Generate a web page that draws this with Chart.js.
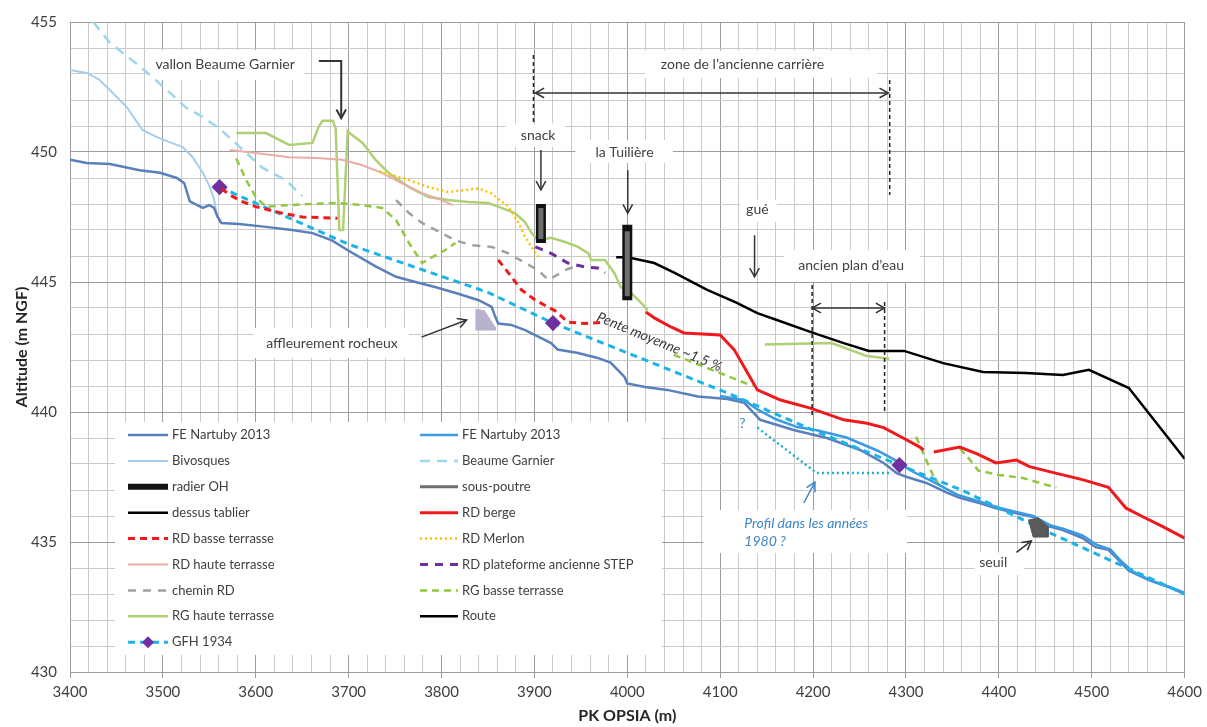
<!DOCTYPE html>
<html><head><meta charset="utf-8">
<script src="https://cdn.jsdelivr.net/npm/chart.js@4.4.1/dist/chart.umd.min.js"></script>
<style>html,body{margin:0;padding:0;background:#fff}#wrap{width:1207px;height:727px}</style>
</head><body><div id="wrap"><canvas id="c" width="1207" height="727"></canvas></div>
<script>
// ---------- axes ----------
const xTickLabels = [3400,3500,3600,3700,3800,3900,4000,4100,4200,4300,4400,4500,4600];
const yTickLabels = [430,435,440,445,450,455];
const xMinorStep = 20;
const yMinorStep = 1;

// ---------- series ([PK, altitude]; null = gap) ----------
const feNartuby2013A = [[3400,449.7],[3418,449.58],[3443,449.54],[3475,449.3],[3497,449.2],[3515,449.0],[3523,448.8],[3529,448.1],[3543,447.85],[3550,447.96],[3555,447.85],[3559,447.5],[3563,447.27],[3582,447.23],[3611,447.12],[3639,447.0],[3661,446.88],[3682,446.6],[3700,446.2],[3729,445.6],[3751,445.2],[3772,445.0],[3794,444.8],[3818,444.55],[3840,444.3],[3854,444.04],[3858,443.65],[3861,443.4],[3875,443.35],[3890,443.15],[3904,442.9],[3918,442.65],[3925,442.4],[3947,442.27],[3968,442.08],[3982,441.9],[3997,441.35],[4000,441.1],[4019,440.96],[4043,440.85],[4076,440.6],[4108,440.5],[4126,440.35],[4143,439.7],[4180,439.3],[4215,439.0],[4250,438.55],[4276,438.04],[4290,437.65],[4301,437.5],[4322,437.27],[4344,436.9],[4358,436.7],[4379,436.5],[4397,436.3],[4419,436.1],[4437,435.96],[4454,435.6],[4469,435.46],[4490,435.15],[4504,434.8],[4518,434.7],[4529,434.3],[4540,433.9],[4561,433.54],[4583,433.27],[4600,433.0]];
const feNartuby2013B = [[4100,440.62],[4126,440.45],[4140,440.1],[4160,439.72],[4183,439.42],[4204,439.3],[4236,439.02],[4269,438.52],[4290,438.12],[4305,437.75],[4330,437.3],[4355,436.82],[4380,436.55],[4400,436.32],[4420,436.15],[4437,436.0],[4455,435.65],[4470,435.5],[4490,435.25],[4505,434.9],[4520,434.72],[4532,434.25],[4545,433.85],[4565,433.5],[4585,433.25],[4600,433.05]];
const bivosques = [[3400,453.15],[3418,453.04],[3432,452.77],[3446,452.27],[3461,451.73],[3478,450.85],[3493,450.58],[3507,450.38],[3521,450.2],[3532,449.8],[3543,449.2],[3550,448.7],[3555,448.2],[3558,447.6],[3562,447.3]];
const beaumeGarnier = [[3425,455.0],[3443,454.2],[3475,453.3],[3504,452.4],[3525,451.7],[3543,451.35],[3561,450.9],[3607,449.4],[3633,448.9],[3650,448.3]];
const radierOH = [[3907,448.0],[3907,446.5],null,[4000,447.2],[4000,444.3]];
const sousPoutre = [[3907,447.85],[3907,446.65],null,[4000,446.95],[4000,444.45]];
const dessusTablier = [[3988,445.95],[4004,445.95]];
const rdBerge = [[4020,443.85],[4030,443.6],[4047,443.27],[4061,443.04],[4100,442.96],[4115,442.4],[4132,441.35],[4140,440.85],[4165,440.46],[4197,440.15],[4233,439.7],[4258,439.57],[4276,439.4],[4297,439.0],[4315,438.65],[4319,438.54],null,[4330,438.46],[4358,438.65],[4376,438.4],[4397,438.04],[4419,438.15],[4433,437.9],[4461,437.65],[4490,437.4],[4518,437.1],[4537,436.3],[4555,435.97],[4576,435.6],[4600,435.15]];
const rdBasseTerrasse = [[3563,448.6],[3572,448.35],[3585,448.1],[3600,447.9],[3628,447.65],[3650,447.5],[3688,447.45],null,[3861,445.85],[3872,445.35],[3886,444.7],[3901,444.3],[3922,443.9],[3936,443.46],[3954,443.4],[3976,443.46]];
const rdMerlon = [[3733,449.25],[3765,448.92],[3786,448.65],[3807,448.46],[3826,448.54],[3840,448.6],[3854,448.4],[3872,447.9],[3883,447.27],[3890,446.73],[3897,446.35],[3904,445.96]];
const rdHauteTerrasse = [[3572,450.08],[3600,449.96],[3636,449.8],[3665,449.77],[3693,449.7],[3714,449.5],[3736,449.2],[3757,448.8],[3779,448.42],[3800,448.15],[3812,447.96]];
const rdPlateformeSTEP = [[3901,446.35],[3918,446.1],[3936,445.73],[3954,445.58],[3968,445.54],[3976,445.35]];
const cheminRD = [[3751,448.15],[3765,447.65],[3779,447.27],[3800,446.88],[3815,446.6],[3832,446.42],[3854,446.35],[3872,446.1],[3890,445.73],[3904,445.46],[3915,445.08],[3936,445.5],[3945,445.6]];
const rgBasseTerrasse = [[3579,449.75],[3590,448.9],[3600,448.27],[3611,447.9],[3636,447.96],[3686,448.04],[3714,447.96],[3736,447.85],[3751,447.38],[3765,446.5],[3779,445.73],[3790,445.96],[3804,446.23],[3815,446.5],null,[4050,442.2],[4135,441.0],null,[4311,439.05],[4320,438.3],[4330,437.5],[4340,437.0],null,[4358,438.6],[4368,438.2],[4378,437.75],[4400,437.58],[4426,437.46],[4451,437.2],[4462,437.1]];
const rgHauteTerrasse = [[3579,450.73],[3611,450.73],[3636,450.27],[3661,450.35],[3668,451.0],[3672,451.2],[3683,451.2],[3686,450.9],[3690,447.0],[3694,447.0],[3699,450.8],[3701,450.73],[3715,450.35],[3729,449.7],[3743,449.2],[3765,448.65],[3786,448.27],[3807,448.15],[3829,448.08],[3850,448.04],[3861,447.9],[3879,447.65],[3890,447.3],[3897,446.88],[3904,446.6],[3918,446.7],[3933,446.54],[3947,446.35],[3958,446.1],[3961,445.85],[3976,445.85],[3986,445.35],[3993,444.8],[4004,444.58],[4015,444.2],[4022,443.92],null,[4148,442.6],[4220,442.65],[4258,442.15],[4282,442.05]];
const route = [[4004,445.92],[4029,445.73],[4051,445.35],[4086,444.7],[4118,444.2],[4140,443.8],[4161,443.54],[4197,443.08],[4233,442.65],[4260,442.35],[4298,442.35],[4340,441.88],[4383,441.54],[4429,441.5],[4469,441.42],[4497,441.62],[4540,440.92],[4600,438.2]];
const gfh1934 = [[3561,448.65],[3700,446.45],[3850,444.6],[3920,443.42],[4110,440.7],[4200,439.3],[4293,437.96],[4360,437.0],[4455,435.35],[4600,433.0]];
const gfh1934Markers = [3561,3920,4293];
const profil1980 = [[4140,439.4],[4204,437.65],[4283,437.65]];
const seuilShape = [[4432,435.85],[4443,435.92],[4453,435.58],[4453,435.19],[4437,435.19],[4432,435.85]];
const affleurementShape = [[3837,443.95],[3846,443.9],[3858,443.25],[3858,443.15],[3837,443.15],[3837,443.95]];

// ---------- annotations (data units) ----------
const annotBoxes = [[3483,453.92,3652,452.77],[4019,453.9,4269,452.85],[3869,451.1,3933,450.2],[3944,450.46,4049,449.58],[4122,448.15,4161,447.3],[4169,446.23,4315,445.0],[3598,443.23,3765,442.08],[4374,434.6,4427,433.73],[4082,436.23,4301,434.58]];
const annotTexts = [
  {t:'vallon Beaume Garnier', x:3567, y:453.35},
  {t:'zone de l\u2019ancienne carrière', x:4124, y:453.35},
  {t:'snack', x:3904, y:450.65},
  {t:'la Tuilière', x:3997, y:450.0},
  {t:'gué', x:4140, y:447.77},
  {t:'ancien plan d\u2019eau', x:4241, y:445.65},
  {t:'affleurement rocheux', x:3682, y:442.65},
  {t:'seuil', x:4394, y:434.2},
  {t:'?', x:4124, y:439.55, c:'#3E86C6'},
  {t:'Profil dans les années', x:4126, y:435.73, c:'#3E86C6', it:true, left:true},
  {t:'1980 ?', x:4126, y:435.02, c:'#3E86C6', it:true, left:true}
];
const slopeText = {t:'Pente moyenne ~1,5 %', x:3968, y:443.68, angle:22.5};
const arrowsSingle = [
  {p:[[3668,453.5],[3692,453.5],[3692,451.3]], w:2},
  {p:[[3907,450.08],[3907,448.54]]},
  {p:[[4000.5,449.3],[4000.5,447.65]]},
  {p:[[4137,446.8],[4137,445.2]]},
  {p:[[3778.5,442.88],[3827,443.54]]},
  {p:[[4419,434.6],[4435,435.04]]},
  {p:[[4190,436.5],[4202,437.3]], c:'#3E86C6'}
];
const arrowsDouble = [[[3901,452.27],[4281,452.27]],[[4199,444.0],[4277,444.0]]];
const dashedVerticals = [[3899,453.73,451.1],[4282.5,452.77,448.35],[4199,444.88,439.77],[4277,444.23,440.0]];

// ---------- helpers ----------
function pts(arr){
  const out=[];
  arr.forEach((p,i)=>{
    if(p===null){ const a=arr[i-1], b=arr[i+1]; out.push({x:(a[0]+b[0])/2, y:null}); }
    else out.push({x:p[0], y:p[1]});
  });
  return out;
}
function ds(id,label,data,style){
  return Object.assign({id,label,data:pts(data),showLine:true,fill:false,pointRadius:0,pointHoverRadius:0,tension:0,spanGaps:false,borderCapStyle:'butt'},style);
}
const datasets = [
  ds('feA','FE Nartuby 2013',feNartuby2013A,{borderColor:'#5A80BC',borderWidth:2.5,order:6}),
  ds('feB','FE Nartuby 2013',feNartuby2013B,{borderColor:'#3C9AE2',borderWidth:2.5,order:5}),
  ds('biv','Bivosques',bivosques,{borderColor:'#A6CDEA',borderWidth:2,order:9}),
  ds('bg','Beaume Garnier',beaumeGarnier,{borderColor:'#9ED6EA',borderWidth:2.5,borderDash:[10,7],order:9}),
  ds('radier','radier OH',radierOH,{borderColor:'#111111',borderWidth:10,legendWidth:6,order:2}),
  ds('sousp','sous-poutre',sousPoutre,{borderColor:'#6E6E6E',borderWidth:5,legendWidth:3,order:1}),
  ds('tablier','dessus tablier',dessusTablier,{borderColor:'#000000',borderWidth:2.5,order:3}),
  ds('berge','RD berge',rdBerge,{borderColor:'#F01A1E',borderWidth:3,order:3}),
  ds('rdbasse','RD basse terrasse',rdBasseTerrasse,{borderColor:'#F01A1E',borderWidth:3,borderDash:[7,5],order:4}),
  ds('merlon','RD Merlon',rdMerlon,{borderColor:'#FFC000',borderWidth:2.5,borderDash:[2,3],order:7}),
  ds('rdhaute','RD haute terrasse',rdHauteTerrasse,{borderColor:'#E9ACA8',borderWidth:2,order:8}),
  ds('plateforme','RD plateforme ancienne STEP',rdPlateformeSTEP,{borderColor:'#7030A0',borderWidth:3,borderDash:[8,7],order:4}),
  ds('chemin','chemin RD',cheminRD,{borderColor:'#A0A0A0',borderWidth:2.5,borderDash:[8,7],order:7}),
  ds('rgbasse','RG basse terrasse',rgBasseTerrasse,{borderColor:'#92C83E',borderWidth:2.5,borderDash:[7,5],order:7}),
  ds('rghaute','RG haute terrasse',rgHauteTerrasse,{borderColor:'#AFD074',borderWidth:2.5,order:8}),
  ds('route','Route',route,{borderColor:'#000000',borderWidth:2.5,order:3}),
  ds('gfh','GFH 1934',gfh1934,{borderColor:'#1CB4E8',borderWidth:3,borderDash:[7,5],order:4,
     pointStyle:'rectRot',pointBackgroundColor:'#7030A0',pointBorderColor:'#7030A0',
     pointRadius:gfh1934.map(p=>gfh1934Markers.includes(p[0])?6:0)}),
  ds('profil','Profil 1980',profil1980,{borderColor:'#1AADD2',borderWidth:2.5,borderDash:[2,3],order:5}),
  ds('seuil','seuil',seuilShape,{borderColor:'#555555',backgroundColor:'#5A5A5A',borderWidth:1,fill:'shape',order:2}),
  ds('affl','affleurement',affleurementShape,{borderColor:'#BDB6CF',backgroundColor:'#B8B2CC',borderWidth:1,fill:'shape',order:9})
];
const legendRows = [['feA','feB'],['biv','bg'],['radier','sousp'],['tablier','berge'],['rdbasse','merlon'],['rdhaute','plateforme'],['chemin','rgbasse'],['rghaute','route'],['gfh',null]];

function arrowHead(ctx,x1,y1,x2,y2,len){
  const a=Math.atan2(y2-y1,x2-x1), s=0.5;
  ctx.beginPath();
  ctx.moveTo(x2-len*Math.cos(a-s),y2-len*Math.sin(a-s));
  ctx.lineTo(x2,y2);
  ctx.lineTo(x2-len*Math.cos(a+s),y2-len*Math.sin(a+s));
  ctx.stroke();
}

const annotPlugin = {
  id:'annot',
  beforeDatasetsDraw(chart){
    const {ctx,scales:{x,y}}=chart;
    ctx.save(); ctx.fillStyle='#ffffff';
    for(const b of annotBoxes){
      const x1=x.getPixelForValue(b[0]),y1=y.getPixelForValue(b[1]),x2=x.getPixelForValue(b[2]),y2=y.getPixelForValue(b[3]);
      ctx.fillRect(x1,y1,x2-x1,y2-y1);
    }
    // legend box
    ctx.fillRect(115,422,547,233);
    ctx.restore();
  },
  afterDatasetsDraw(chart){
    const {ctx,scales:{x,y}}=chart;
    const X=v=>x.getPixelForValue(v), Y=v=>y.getPixelForValue(v);
    ctx.save();
    // dashed verticals
    ctx.strokeStyle='#222'; ctx.lineWidth=1.5; ctx.setLineDash([4,3]);
    for(const d of dashedVerticals){ctx.beginPath();ctx.moveTo(X(d[0]),Y(d[1]));ctx.lineTo(X(d[0]),Y(d[2]));ctx.stroke();}
    ctx.setLineDash([]);
    // single arrows
    for(const a of arrowsSingle){
      ctx.strokeStyle=a.c||'#333'; ctx.lineWidth=a.w||1.5;
      ctx.beginPath(); a.p.forEach((p,i)=>{ if(i===0) ctx.moveTo(X(p[0]),Y(p[1])); else ctx.lineTo(X(p[0]),Y(p[1])); }); ctx.stroke();
      const n=a.p.length, p1=a.p[n-2], p2=a.p[n-1];
      arrowHead(ctx,X(p1[0]),Y(p1[1]),X(p2[0]),Y(p2[1]),10);
    }
    ctx.strokeStyle='#333'; ctx.lineWidth=1.5;
    for(const a of arrowsDouble){
      const x1=X(a[0][0]),y1=Y(a[0][1]),x2=X(a[1][0]),y2=Y(a[1][1]);
      ctx.beginPath();ctx.moveTo(x1,y1);ctx.lineTo(x2,y2);ctx.stroke();
      arrowHead(ctx,x1,y1,x2,y2,10); arrowHead(ctx,x2,y2,x1,y1,10);
    }
    // texts
    ctx.textBaseline='middle';
    for(const t of annotTexts){
      ctx.font=(t.it?'italic ':'')+'14px Lato';
      ctx.fillStyle=t.c||'#404040';
      ctx.textAlign=t.left?'left':'center';
      ctx.fillText(t.t,X(t.x),Y(t.y));
    }
    ctx.save();
    ctx.translate(X(slopeText.x),Y(slopeText.y)); ctx.rotate(slopeText.angle*Math.PI/180);
    ctx.font='italic 14px Lato'; ctx.fillStyle='#3A3A3A'; ctx.textAlign='left';
    ctx.fillText(slopeText.t,0,0);
    ctx.restore();
    // legend
    const cols=[{x0:128,x1:168,tx:172},{x0:420,x1:458,tx:462}];
    legendRows.forEach((row,ri)=>{
      const ry=435+25.9*ri;
      row.forEach((id,ci)=>{
        if(!id) return;
        const d=chart.data.datasets.find(s=>s.id===id);
        const c=cols[ci];
        ctx.strokeStyle=d.borderColor; ctx.lineWidth=d.legendWidth||d.borderWidth; ctx.setLineDash(d.borderDash||[]); ctx.lineCap='butt';
        ctx.beginPath(); ctx.moveTo(c.x0,ry); ctx.lineTo(c.x1,ry); ctx.stroke(); ctx.setLineDash([]);
        if(id==='gfh'){
          const mx=(c.x0+c.x1)/2; ctx.fillStyle='#7030A0';
          ctx.beginPath(); ctx.moveTo(mx,ry-6); ctx.lineTo(mx+6,ry); ctx.lineTo(mx,ry+6); ctx.lineTo(mx-6,ry); ctx.closePath(); ctx.fill();
        }
        ctx.font='13px Lato'; ctx.fillStyle='#404040'; ctx.textAlign='left'; ctx.textBaseline='middle';
        ctx.fillText(d.label,c.tx,ry);
      });
    });
    ctx.restore();
  }
};

const majorX=v=>Math.abs(v%100)<1e-6, majorY=v=>Math.abs(v%5)<1e-6;
new Chart(document.getElementById('c'),{
  type:'scatter',
  data:{datasets},
  plugins:[annotPlugin],
  options:{
    responsive:false, animation:false, devicePixelRatio:1,
    layout:{padding:{top:22,right:18,left:0,bottom:0}},
    plugins:{legend:{display:false},tooltip:{enabled:false}},
    scales:{
      x:{type:'linear',min:3400,max:4600,
        ticks:{stepSize:xMinorStep,autoSkip:false,maxRotation:0,padding:5,color:'#404040',font:{family:'Lato',size:15},
          callback:v=>xTickLabels.includes(v)?String(v):''},
        grid:{color:c=>majorX(c.tick.value)?'#9C9C9C':'#CACACA',lineWidth:1,tickLength:6,tickColor:c=>majorX(c.tick.value)?'#9C9C9C':'rgba(0,0,0,0)'},
        border:{color:'#9C9C9C'},
        title:{display:true,text:'PK OPSIA (m)',color:'#262626',font:{family:'Lato',size:16,weight:'bold'},padding:{top:0,bottom:2}},
        afterFit:s=>{s.height=55;}
      },
      y:{type:'linear',min:430,max:455,
        ticks:{stepSize:yMinorStep,autoSkip:false,padding:13,color:'#404040',font:{family:'Lato',size:15},
          callback:v=>yTickLabels.includes(v)?String(v):''},
        grid:{color:c=>majorY(c.tick.value)?'#9C9C9C':'#CACACA',lineWidth:1,drawTicks:false},
        border:{color:'#9C9C9C'},
        title:{display:true,text:'Altitude (m NGF)',color:'#262626',font:{family:'Lato',size:16,weight:'bold'},padding:{top:12,bottom:0}},
        afterFit:s=>{s.width=70;}
      }
    }
  }
});
</script></body></html>
